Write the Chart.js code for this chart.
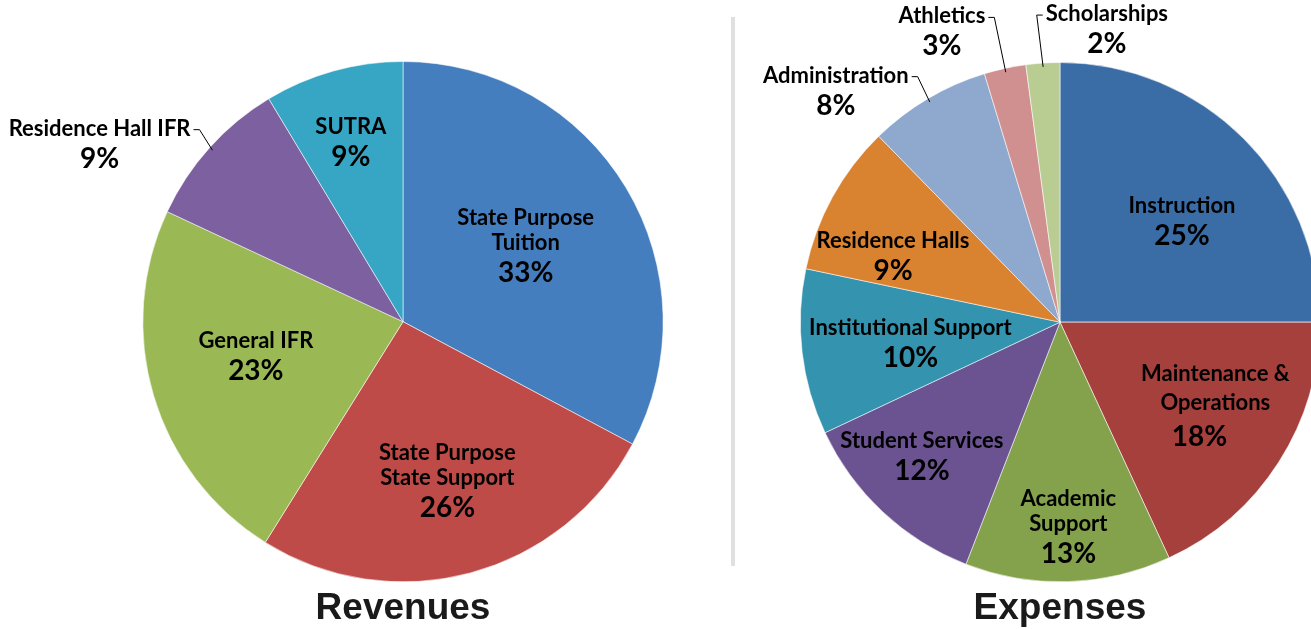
<!DOCTYPE html>
<html>
<head>
<meta charset="utf-8">
<script src="https://cdn.jsdelivr.net/npm/chart.js@4.4.1/dist/chart.umd.min.js"></script>
<style>
  html, body { margin: 0; padding: 0; background: #fff; width: 1311px; height: 629px; overflow: hidden; }
  #wrap { position: relative; width: 1311px; height: 629px; overflow: hidden; }
  canvas { position: absolute; top: 0; }
  #revCanvas { left: 0; }
  #expCanvas { left: 760px; }
  #divider { position: absolute; left: 731px; top: 17px; width: 4px; height: 549px; background: #e0e0e0; }
</style>
</head>
<body>
<div id="wrap">
  <canvas id="revCanvas" width="806" height="629"></canvas>
  <div id="divider"></div>
  <canvas id="expCanvas" width="600" height="629"></canvas>
</div>
<script>
// Revenues
var revNames = [['State Purpose', 'Tuition'], ['State Purpose', 'State Support'], ['General IFR'], ['Residence Hall IFR'], ['SUTRA']];
var revValues = [32.7, 26.0, 23.0, 9.4, 8.6];
var revColors = ['#457ebf', '#be4b48', '#9ab955', '#7d60a0', '#37a6c4'];

// Expenses
var expNames = [['Instruction'], ['Maintenance &', 'Operations'], ['Academic', 'Support'], ['Student Services'],
    ['Institutional Support'], ['Residence Halls'], ['Administration'], ['Athletics'], ['Scholarships']];
var expValues = [25.0, 18.1, 12.8, 12.1, 10.3, 9.4, 7.6, 2.6, 2.1];
var expColors = ['#3a6ca6', '#a5403d', '#84a14b', '#6a5390', '#3494af', '#d9822f', '#8fa8ce', '#d09090', '#b9cd93'];

// label placement: r = fraction of radius along slice middle, dx/dy nudge, side = leader line
var revPlace = [
    {r: 0.55, dx: 0, dy: -3},
    {r: 0.63, dx: 2, dy: 0},
    {r: 0.59, dx: 0, dy: -9},
    {r: 1, dx: -110, dy: -4, side: 'left'},
    {r: 0.72, dx: -2, dy: 1}
];
var expPlace = [
    {r: 0.61, dx: 10, dy: 11},
    {r: 0.66, dx: 11, dy: -9, pctDx: -16, gap: 29, pctGap: 35},
    {r: 0.78, dx: 2, dy: 2},
    {r: 0.74, dx: -7, dy: -7},
    {r: 0.58, dx: 0, dy: 3},
    {r: 0.69, dx: -10, dy: 20},
    {r: 1, dx: -92, dy: -8, side: 'left'},
    {r: 1, dx: -63, dy: -37, side: 'left'},
    {r: 1, dx: 64, dy: -34, side: 'right'}
];

var labelFont = 'Lato, "Open Sans", sans-serif';

var sliceLabels = {
    id: 'sliceLabels',
    afterDatasetsDraw: function(chart, args, opts) {
        var ctx = chart.ctx;
        var meta = chart.getDatasetMeta(0);
        var vals = chart.data.datasets[0].data;
        var total = vals.reduce(function(a, b) { return a + b; }, 0);
        ctx.save();
        ctx.fillStyle = '#000';
        ctx.textAlign = 'center';
        ctx.textBaseline = 'middle';
        meta.data.forEach(function(arc, i) {
            var p = opts.place[i];
            var lines = opts.names[i];
            var gap = p.gap || 25, pctGap = p.pctGap || 30;
            var a = arc.getProps(['x', 'y', 'startAngle', 'endAngle', 'outerRadius'], true);
            var mid = (a.startAngle + a.endAngle) / 2;
            var cx = a.x + Math.cos(mid) * a.outerRadius * p.r + p.dx;
            var cy = a.y + Math.sin(mid) * a.outerRadius * p.r + p.dy;
            var h = (lines.length - 1) * gap + pctGap;
            var y0 = cy - h / 2;
            ctx.font = 'bold 22px ' + labelFont;
            lines.forEach(function(t, k) {
                ctx.fillText(t, cx, y0 + k * gap);
            });
            ctx.font = 'bold 28px ' + labelFont;
            var pct = Math.round(vals[i] / total * 100) + '%';
            ctx.fillText(pct, cx + (p.pctDx || 0), y0 + h);

            if (p.side) {
                ctx.font = 'bold 22px ' + labelFont;
                var w = ctx.measureText(lines[0]).width;
                var ax = a.x + Math.cos(mid) * a.outerRadius * 0.985;
                var ay = a.y + Math.sin(mid) * a.outerRadius * 0.985;
                var sx = p.side === 'left' ? cx + w / 2 + 3 : cx - w / 2 - 3;
                var ex = p.side === 'left' ? sx + 6 : sx - 6;
                ctx.strokeStyle = '#000';
                ctx.lineWidth = 1;
                ctx.beginPath();
                ctx.moveTo(sx, y0 + 1);
                ctx.lineTo(ex, y0 + 1);
                ctx.lineTo(ax, ay);
                ctx.stroke();
            }
        });
        ctx.restore();
    }
};

function makePie(id, names, values, colors, place, title, top) {
    return new Chart(document.getElementById(id), {
        type: 'pie',
        data: {
            labels: names.map(function(n) { return n.join(' '); }),
            datasets: [{
                data: values,
                backgroundColor: colors,
                borderColor: 'rgba(255,255,255,0.55)',
                borderWidth: 1
            }]
        },
        options: {
            responsive: false,
            animation: false,
            layout: { padding: { top: top, bottom: 0, left: 0, right: 0 } },
            plugins: {
                legend: { display: false },
                tooltip: { enabled: false },
                title: {
                    display: true,
                    position: 'bottom',
                    text: title,
                    color: '#1a1a1a',
                    padding: { top: 6, bottom: 0 },
                    font: { family: '"Liberation Sans", Arial, sans-serif', size: 37, weight: 'bold', lineHeight: 1.1 }
                },
                sliceLabels: { names: names, place: place }
            }
        },
        plugins: [sliceLabels]
    });
}

makePie('revCanvas', revNames, revValues, revColors, revPlace, 'Revenues', 61);
makePie('expCanvas', expNames, expValues, expColors, expPlace, 'Expenses', 62);
</script>
</body>
</html>
